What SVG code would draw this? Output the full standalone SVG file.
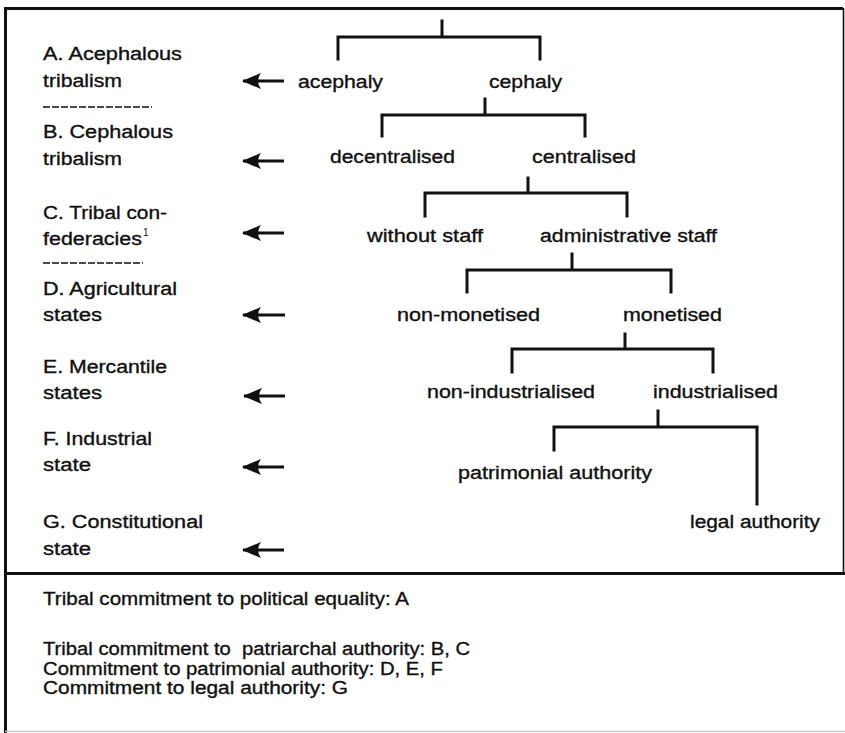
<svg xmlns="http://www.w3.org/2000/svg" width="845" height="733" viewBox="0 0 845 733">
  <style>
    .t { font-family: "Liberation Sans", Arial, Helvetica, sans-serif; font-size: 18px; fill: #111; stroke: #111; stroke-width: 0.35; }
    .sup { font-family: "Liberation Sans", Arial, Helvetica, sans-serif; font-size: 10px; fill: #111; }
    .frame { stroke: #111; stroke-width: 3; fill: none; }
    .thin { stroke: #111; stroke-width: 1.6; fill: none; }
    .sep { stroke: #111; stroke-width: 1.5; stroke-dasharray: 7 2; fill: none; }
    .br { stroke: #111; stroke-width: 3; fill: none; stroke-linecap: square; }
    .arr { stroke: #111; stroke-width: 2.8; fill: none; marker-start: url(#head); }
  </style>
  <defs>
    <!-- left-pointing barbed arrowhead, drawn at the start of each stage arrow -->
    <marker id="head" markerUnits="userSpaceOnUse" markerWidth="19" markerHeight="16" refX="1" refY="8" orient="auto" viewBox="0 0 19 16">
      <path d="M0,8 L19,0 Q13,8 19,16 Z" fill="#111"/>
    </marker>
  </defs>

  <rect width="845" height="733" fill="#fff"/>

  <!-- outer frame and divider -->
  <g id="frame">
    <line class="frame" x1="5" y1="8.5" x2="843" y2="8.5"/>
    <line class="frame" x1="5.5" y1="7" x2="5.5" y2="733"/>
    <line class="thin" x1="843.5" y1="8" x2="843.5" y2="573"/>
    <line class="frame" x1="5" y1="573.5" x2="845" y2="573.5"/>
    <line x1="5" y1="731.5" x2="845" y2="731.5" stroke="#c8c8c8" stroke-width="1.5"/>
  </g>

  <!-- stage labels -->
  <g id="stage-a">
    <text class="t" x="43" y="60" textLength="139" lengthAdjust="spacingAndGlyphs">A. Acephalous</text>
    <text class="t" x="43" y="87" textLength="79" lengthAdjust="spacingAndGlyphs">tribalism</text>
  </g>
  <line class="sep" x1="43" y1="107" x2="152" y2="107"/>
  <g id="stage-b">
    <text class="t" x="43" y="138" textLength="130" lengthAdjust="spacingAndGlyphs">B. Cephalous</text>
    <text class="t" x="43" y="165" textLength="79" lengthAdjust="spacingAndGlyphs">tribalism</text>
  </g>
  <g id="stage-c">
    <text class="t" x="43" y="219" textLength="124" lengthAdjust="spacingAndGlyphs">C. Tribal con-</text>
    <text class="t" x="43" y="245" textLength="99" lengthAdjust="spacingAndGlyphs">federacies</text>
    <text class="sup" x="143" y="236">1</text>
  </g>
  <line class="sep" x1="43" y1="263" x2="143" y2="263"/>
  <g id="stage-d">
    <text class="t" x="43" y="295" textLength="134" lengthAdjust="spacingAndGlyphs">D. Agricultural</text>
    <text class="t" x="43" y="321" textLength="59" lengthAdjust="spacingAndGlyphs">states</text>
  </g>
  <g id="stage-e">
    <text class="t" x="43" y="373" textLength="124" lengthAdjust="spacingAndGlyphs">E. Mercantile</text>
    <text class="t" x="43" y="399" textLength="59" lengthAdjust="spacingAndGlyphs">states</text>
  </g>
  <g id="stage-f">
    <text class="t" x="43" y="445" textLength="109" lengthAdjust="spacingAndGlyphs">F. Industrial</text>
    <text class="t" x="43" y="471" textLength="48" lengthAdjust="spacingAndGlyphs">state</text>
  </g>
  <g id="stage-g">
    <text class="t" x="43" y="528" textLength="160" lengthAdjust="spacingAndGlyphs">G. Constitutional</text>
    <text class="t" x="43" y="555" textLength="48" lengthAdjust="spacingAndGlyphs">state</text>
  </g>

  <!-- typology tree nodes -->
  <g id="n-acephaly"><text class="t" x="298" y="88" textLength="85" lengthAdjust="spacingAndGlyphs">acephaly</text></g>
  <g id="n-cephaly"><text class="t" x="489" y="88" textLength="73" lengthAdjust="spacingAndGlyphs">cephaly</text></g>
  <g id="n-decentralised"><text class="t" x="330" y="163" textLength="125" lengthAdjust="spacingAndGlyphs">decentralised</text></g>
  <g id="n-centralised"><text class="t" x="532" y="163" textLength="104" lengthAdjust="spacingAndGlyphs">centralised</text></g>
  <g id="n-without-staff"><text class="t" x="367" y="242" textLength="116" lengthAdjust="spacingAndGlyphs">without staff</text></g>
  <g id="n-admin-staff"><text class="t" x="540" y="242" textLength="177" lengthAdjust="spacingAndGlyphs">administrative staff</text></g>
  <g id="n-non-monetised"><text class="t" x="397" y="321" textLength="143" lengthAdjust="spacingAndGlyphs">non-monetised</text></g>
  <g id="n-monetised"><text class="t" x="623" y="321" textLength="99" lengthAdjust="spacingAndGlyphs">monetised</text></g>
  <g id="n-non-industrialised"><text class="t" x="427" y="398" textLength="168" lengthAdjust="spacingAndGlyphs">non-industrialised</text></g>
  <g id="n-industrialised"><text class="t" x="653" y="398" textLength="125" lengthAdjust="spacingAndGlyphs">industrialised</text></g>
  <g id="n-patrimonial"><text class="t" x="458" y="479" textLength="194" lengthAdjust="spacingAndGlyphs">patrimonial authority</text></g>
  <g id="n-legal"><text class="t" x="690" y="528" textLength="130" lengthAdjust="spacingAndGlyphs">legal authority</text></g>

  <!-- connectors: branching brackets and stage arrows -->
  <g id="connectors">
    <path class="br" d="M442,21 V37 M338,59 V37 H540 V59"/>
    <path class="br" d="M485,99 V115 M382,136 V115 H585 V136"/>
    <path class="br" d="M528,178 V193 M425,216 V193 H627 V216"/>
    <path class="br" d="M572,254 V270 M467,292 V270 H671 V292"/>
    <path class="br" d="M625,334 V349 M512,372 V349 H713 V372"/>
    <path class="br" d="M658,411 V427 M554,450 V427 H757 V504"/>

    <line class="arr" x1="243" y1="81" x2="284" y2="81"/>
    <line class="arr" x1="243" y1="161" x2="284" y2="161"/>
    <line class="arr" x1="243" y1="233" x2="284" y2="233"/>
    <line class="arr" x1="243" y1="315" x2="285" y2="315"/>
    <line class="arr" x1="244" y1="396" x2="285" y2="396"/>
    <line class="arr" x1="243" y1="467" x2="284" y2="467"/>
    <line class="arr" x1="243" y1="550" x2="284" y2="550"/>
  </g>

  <!-- commitments summary -->
  <g id="summary">
    <text class="t" x="43" y="605" textLength="366" lengthAdjust="spacingAndGlyphs">Tribal commitment to political equality: A</text>
    <text class="t" x="43" y="655" textLength="427" lengthAdjust="spacingAndGlyphs" xml:space="preserve">Tribal commitment to  patriarchal authority: B, C</text>
    <text class="t" x="43" y="675" textLength="400" lengthAdjust="spacingAndGlyphs">Commitment to patrimonial authority: D, E, F</text>
    <text class="t" x="43" y="694" textLength="305" lengthAdjust="spacingAndGlyphs">Commitment to legal authority: G</text>
  </g>
</svg>
